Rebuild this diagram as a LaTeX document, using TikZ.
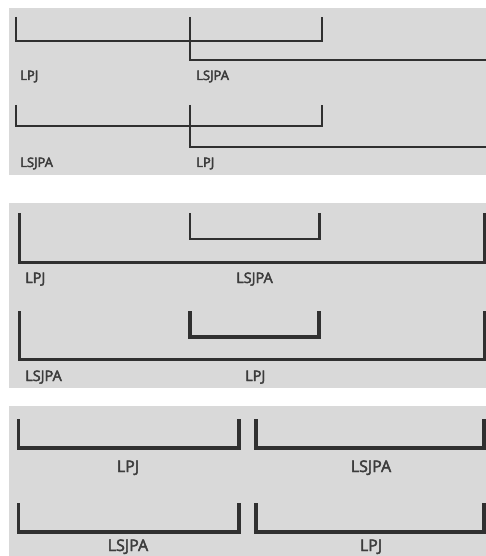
\documentclass[tikz,border=0pt]{standalone}
\usepackage{fontspec}
\newfontfamily\lblfont{Open Sans}
\newcommand\heavytxt[1]{\special{pdf:literal direct 2 Tr 0.45 w}#1\special{pdf:literal direct 0 Tr}}
\definecolor{panelgray}{HTML}{D9D9D9}
\definecolor{linegray}{HTML}{303030}
\definecolor{textgray}{HTML}{3C3C3C}
\begin{document}
\begin{tikzpicture}[x=1pt,y=-1pt,
  panel/.style={fill=panelgray,draw=none},
  brk/.style={draw=linegray,line join=miter,line cap=butt},
  thinbrk/.style={brk,line width=2.5pt},
  midbrk/.style={brk,line width=3pt},
  thickbrk/.style={brk,line width=3.3pt},
  lbl/.style={inner sep=0pt,text=textgray},
  lblA/.style={lbl,anchor=base west,font=\lblfont\fontsize{13}{15}\selectfont},
  lblB/.style={lbl,anchor=base west,font=\lblfont\fontsize{14.5}{16}\selectfont},
  lblC/.style={lbl,anchor=base,font=\lblfont\fontsize{16}{18}\selectfont}]
\useasboundingbox (0,0) rectangle (486,556);
\fill[white] (0,0) rectangle (486,556);
% panels
\path[panel] (9,8) rectangle (486,175);
\path[panel] (9,203) rectangle (486,388);
\path[panel] (9,406) rectangle (486,556);

% ---- panel 1 ----
\draw[thinbrk] (16,17) -- (16,41) -- (322,41) -- (322,17);
\draw[thinbrk] (190,17) -- (190,60) -- (486,60);
\node[lblA] (p1a) at (20,80) {\heavytxt{LPJ}};
\node[lblA] (p1b) at (196,80) {\heavytxt{LSJPA}};
\draw[thinbrk] (16,105) -- (16,126) -- (322,126) -- (322,105);
\draw[thinbrk] (190,105) -- (190,147) -- (486,147);
\node[lblA] (p1c) at (20,167) {\heavytxt{LSJPA}};
\node[lblA] (p1d) at (196,167) {\heavytxt{LPJ}};

% ---- panel 2 ----
\draw[midbrk] (19.5,213) -- (19.5,262) -- (484,262) -- (484,213);
\draw[brk,line width=2.2pt] (190,213) -- (190,239) -- (319.5,239) -- (319.5,213);
\node[lblB] (p2a) at (25,283) {\heavytxt{LPJ}};
\node[lblB] (p2b) at (236,283) {\heavytxt{LSJPA}};
\draw[midbrk] (19.5,311) -- (19.5,359) -- (484,359) -- (484,311);
\draw[thickbrk] (190,311) -- (190,337) -- (319,337) -- (319,311);
\node[lblB] (p2c) at (25,381) {\heavytxt{LSJPA}};
\node[lblB] (p2d) at (245,381) {\heavytxt{LPJ}};

% ---- panel 3 ----
\draw[thickbrk] (18.5,419) -- (18.5,448) -- (239,448) -- (239,419);
\draw[thickbrk] (256,419) -- (256,448) -- (484,448) -- (484,419);
\node[lblC] (p3a) at (128,472) {\heavytxt{LPJ}};
\node[lblC] (p3b) at (371,472) {\heavytxt{LSJPA}};
\draw[thickbrk] (18.5,503) -- (18.5,532) -- (239,532) -- (239,503);
\draw[thickbrk] (256,503) -- (256,532) -- (484,532) -- (484,503);
\node[lblC] (p3c) at (128,551) {\heavytxt{LSJPA}};
\node[lblC] (p3d) at (371,551) {\heavytxt{LPJ}};
\end{tikzpicture}
\end{document}
